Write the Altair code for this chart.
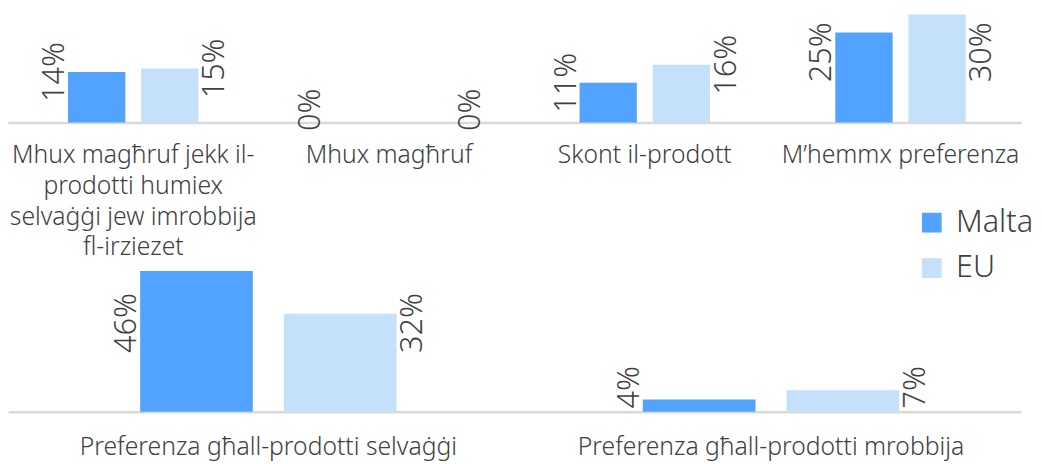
import altair as alt
import pandas as pd

series = ["Malta", "EU"]
series_colors = ["#52A3FF", "#C5E0FB"]

top_categories = [
    "Mhux magħruf jekk il-\nprodotti humiex\nselvaġġi jew imrobbija\nfl-irziezet",
    "Mhux magħruf",
    "Skont il-prodott",
    "M’hemmx preferenza",
]
top_malta = [14, 0, 11, 25]
top_eu = [15, 0, 16, 30]

bottom_categories = [
    "Preferenza għall-prodotti selvaġġi",
    "Preferenza għall-prodotti mrobbija",
]
bottom_malta = [46, 4]
bottom_eu = [32, 7]

FONT = "Noto Sans"
TEXT = "#404040"
WEIGHT = 300


def make_df(cats, malta, eu):
    rows = []
    for c, m, e in zip(cats, malta, eu):
        rows.append({"category": c, "series": "Malta", "value": m})
        rows.append({"category": c, "series": "EU", "value": e})
    return pd.DataFrame(rows)


def panel(cats, malta, eu, ymax, height, lo, hi, half_band, lab_pad, pad_outer, legend):
    df = make_df(cats, malta, eu)
    base = alt.Chart(df).encode(
        x=alt.X(
            "category:N",
            sort=cats,
            scale=alt.Scale(paddingInner=0.49, paddingOuter=pad_outer, align=0.52),
            axis=alt.Axis(
                title=None,
                labelAngle=0,
                labelExpr="split(datum.label, '\\n')",
                labelFont=FONT,
                labelFontSize=25,
                labelFontWeight=WEIGHT,
                labelColor=TEXT,
                labelPadding=lab_pad,
                labelLineHeight=31,
                labelLimit=600,
                labelOverlap=False,
                labelBaseline="top",
                ticks=False,
                domainColor="#D9D9D9",
                domainWidth=2.5,
                grid=False,
            ),
        ),
        xOffset=alt.XOffset(
            "series:N",
            sort=series,
            scale=alt.Scale(paddingInner=0.216, paddingOuter=0),
        ),
    )
    yscale = alt.Scale(domain=[0, ymax])
    color_kwargs = dict(
        sort=series,
        scale=alt.Scale(domain=series, range=series_colors),
    )
    if legend:
        color_kwargs["legend"] = alt.Legend(
            title=None,
            orient="none",
            legendX=920,
            legendY=199,
            symbolType="square",
            symbolSize=400,
            symbolStrokeWidth=0,
            labelFont=FONT,
            labelFontSize=31,
            labelFontWeight=WEIGHT,
            labelColor=TEXT,
            labelOffset=9,
            rowPadding=14,
        )
    else:
        color_kwargs["legend"] = None
    bars = base.mark_bar().encode(
        y=alt.Y("value:Q", scale=yscale, axis=None),
        color=alt.Color("series:N", **color_kwargs),
    )
    lab_base = base.transform_calculate(
        lab="datum.value + '%'",
        pos=f"clamp(datum.value, {lo}, {hi})",
    )
    malta_lab = lab_base.transform_filter("datum.series == 'Malta'").mark_text(
        angle=270, align="center", baseline="alphabetic",
        dy=-(half_band + 4), font=FONT, fontSize=31, fontWeight=WEIGHT, color=TEXT,
    ).encode(y=alt.Y("pos:Q", scale=yscale, axis=None), text="lab:N")
    eu_lab = lab_base.transform_filter("datum.series == 'EU'").mark_text(
        angle=270, align="center", baseline="alphabetic",
        dy=half_band + 4 + 22, font=FONT, fontSize=31, fontWeight=WEIGHT, color=TEXT,
    ).encode(y=alt.Y("pos:Q", scale=yscale, axis=None), text="lab:N")
    return alt.layer(bars, malta_lab, eu_lab).properties(width=1026, height=height)


top = panel(top_categories, top_malta, top_eu, 31, 113, 3.5, 19.5, 29, 21, 0.2257, True)
bottom = panel(bottom_categories, bottom_malta, bottom_eu, 50, 155, 8, 29, 57, 23, 0.2528, False)

chart = (
    alt.vconcat(top, bottom, spacing=138, bounds="flush")
    .resolve_scale(x="independent", xOffset="independent", y="independent")
    .properties(padding=0)
    .configure_view(stroke=None)
)

chart.save("out.html", embed_options={"renderer": "svg", "actions": False})
